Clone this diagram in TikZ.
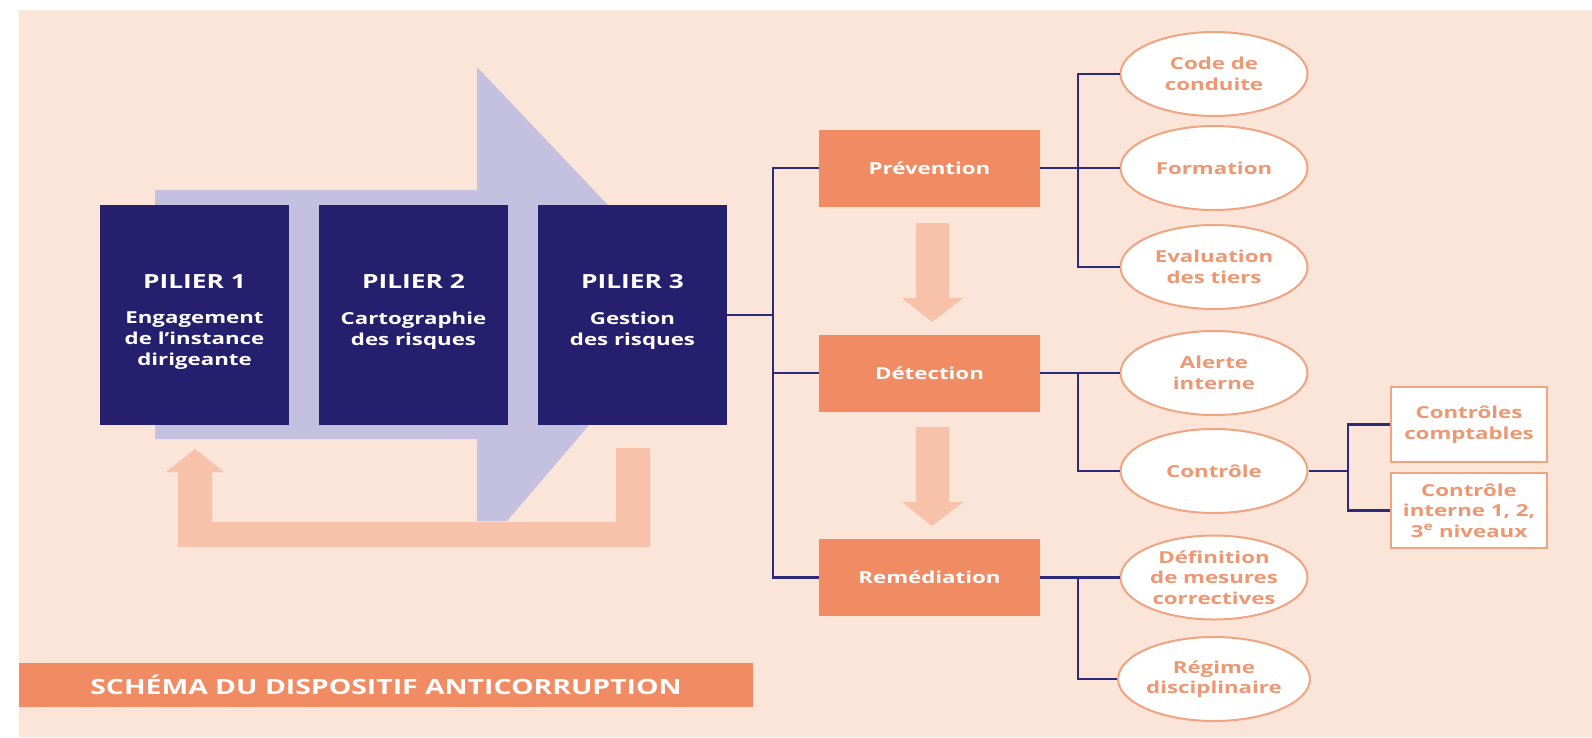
\documentclass[tikz,border=0pt]{standalone}
\usepackage{fontspec}
\setmainfont{Open Sans}[FakeStretch=1.35]
\usetikzlibrary{shapes.geometric,calc}
\definecolor{bgpeach}{HTML}{FBE4D8}
\definecolor{navy}{HTML}{251F6E}
\definecolor{lavender}{HTML}{C4C0E0}
\definecolor{salmon}{HTML}{F08B63}
\definecolor{lightsal}{HTML}{F7C2A9}
\definecolor{ellline}{HTML}{F0A482}
\definecolor{elltext}{HTML}{EE9873}
\definecolor{connline}{HTML}{2E2A7A}
\tikzset{
  pbox/.style={fill=navy,minimum width=189pt,minimum height=220pt,inner sep=0pt},
  ptitle/.style={text=white,font=\bfseries\fontsize{19.5}{22}\selectfont,inner sep=0pt},
  psub/.style={text=white,font=\bfseries\fontsize{16.5}{21}\selectfont,align=center,inner sep=0pt,anchor=north},
  sbox/.style={fill=salmon,text=white,minimum width=221pt,minimum height=77pt,inner sep=0pt,font=\bfseries\fontsize{16.5}{20}\selectfont},
  ell/.style={ellipse,draw=ellline,line width=2pt,fill=white,minimum width=187pt,minimum height=84pt,inner sep=0pt,text=elltext,align=center,font=\bfseries\fontsize{16.5}{20.5}\selectfont},
  rbox/.style={draw=ellline,line width=2pt,fill=white,minimum width=156pt,minimum height=75pt,inner sep=0pt,text=elltext,align=center,font=\bfseries\fontsize{16.5}{20.5}\selectfont},
  titlebar/.style={fill=salmon,text=white,minimum width=734pt,minimum height=44pt,inner sep=0pt,font=\bfseries\fontsize{21}{24}\selectfont},
  conn/.style={draw=connline,line width=2.2pt},
}
\begin{document}
\begin{tikzpicture}[x=1pt,y=-1pt]
\useasboundingbox (0,0) rectangle (1592,737);
\fill[white] (0,0) rectangle (1592,737);
\fill[bgpeach] (19,10) rectangle (1592,737);
% big lavender arrow
\fill[lavender] (155,190) -- (477,190) -- (477,67) -- (697,299) -- (507,521) -- (477,521) -- (477,439) -- (155,439) -- cycle;
% feedback arrow
\fill[lightsal] (616,448) -- (650,448) -- (650,547) -- (178,547) -- (178,472) -- (166,472) -- (195,449) -- (224,472) -- (212,472) -- (212,522) -- (616,522) -- cycle;
% pillars
\node[pbox] (p1) at (194.5,315) {};
\node[pbox] (p2) at (413.5,315) {};
\node[pbox] (p3) at (632.5,315) {};
\node[ptitle] (p1t) at ($(p1.north)+(0,77)$) {PILIER 1};
\node[ptitle] (p2t) at ($(p2.north)+(0,77)$) {PILIER 2};
\node[ptitle] (p3t) at ($(p3.north)+(0,77)$) {PILIER 3};
\node[psub] (p1s) at ($(p1.north)+(0,107)$) {Engagement\\de l’instance\\dirigeante};
\node[psub] (p2s) at ($(p2.north)+(0,107)$) {Cartographie\\des risques};
\node[psub] (p3s) at ($(p3.north)+(0,107)$) {Gestion\\des risques};
% salmon boxes
\node[sbox] (prev) at (929.5,168) {Prévention};
\node[sbox] (det) at (929.5,373) {Détection};
\node[sbox] (rem) at (929.5,577.5) {Remédiation};
% down arrows
\fill[lightsal] (916,223) -- (949,223) -- (949,298) -- (963,298) -- (932,322) -- (902,298) -- (916,298) -- cycle;
\fill[lightsal] (916,427) -- (949,427) -- (949,502) -- (963,502) -- (932,526) -- (902,502) -- (916,502) -- cycle;
% ellipses
\node[ell] (code) at (1214,74) {Code de\\conduite};
\node[ell] (form) at (1214,168) {Formation};
\node[ell] (eval) at (1214,267) {Evaluation\\des tiers};
\node[ell] (alerte) at (1214,373) {Alerte\\interne};
\node[ell] (ctrl) at (1214,471) {Contrôle};
\node[ell] (def) at (1214,577.5) {Définition\\de mesures\\correctives};
\node[ell] (regime) at (1214,679) {Régime\\disciplinaire};
% rect boxes
\node[rbox] (cc) at (1469,424.5) {Contrôles\\comptables};
\node[rbox] (ci) at (1469,510.5) {Contrôle\\interne 1, 2,\\3\textsuperscript{e} niveaux};
% title
\node[titlebar] (title) at (386,685) {SCHÉMA DU DISPOSITIF ANTICORRUPTION};
% connectors
\coordinate (trunk) at (773,0);
\coordinate (b1) at (1078,0);
\coordinate (b2) at (1348,0);
\draw[conn] (p3.east) -- (p3.east -| trunk);
\draw[conn] (prev.west) -- (prev.west -| trunk) |- (rem.west);
\draw[conn] (det.west) -- (det.west -| trunk);
\draw[conn] (prev.east) -- (form.west);
\draw[conn] (code.west) -- (code.west -| b1) |- (eval.west);
\draw[conn] (det.east) -- (alerte.west);
\draw[conn] (det.east -| b1) |- (ctrl.west);
\draw[conn] (rem.east) -- (def.west);
\draw[conn] (rem.east -| b1) |- (regime.west);
\draw[conn] (ctrl.east) -- (ctrl.east -| b2);
\draw[conn] (cc.west) -- (cc.west -| b2) |- (ci.west);
\end{tikzpicture}
\end{document}
